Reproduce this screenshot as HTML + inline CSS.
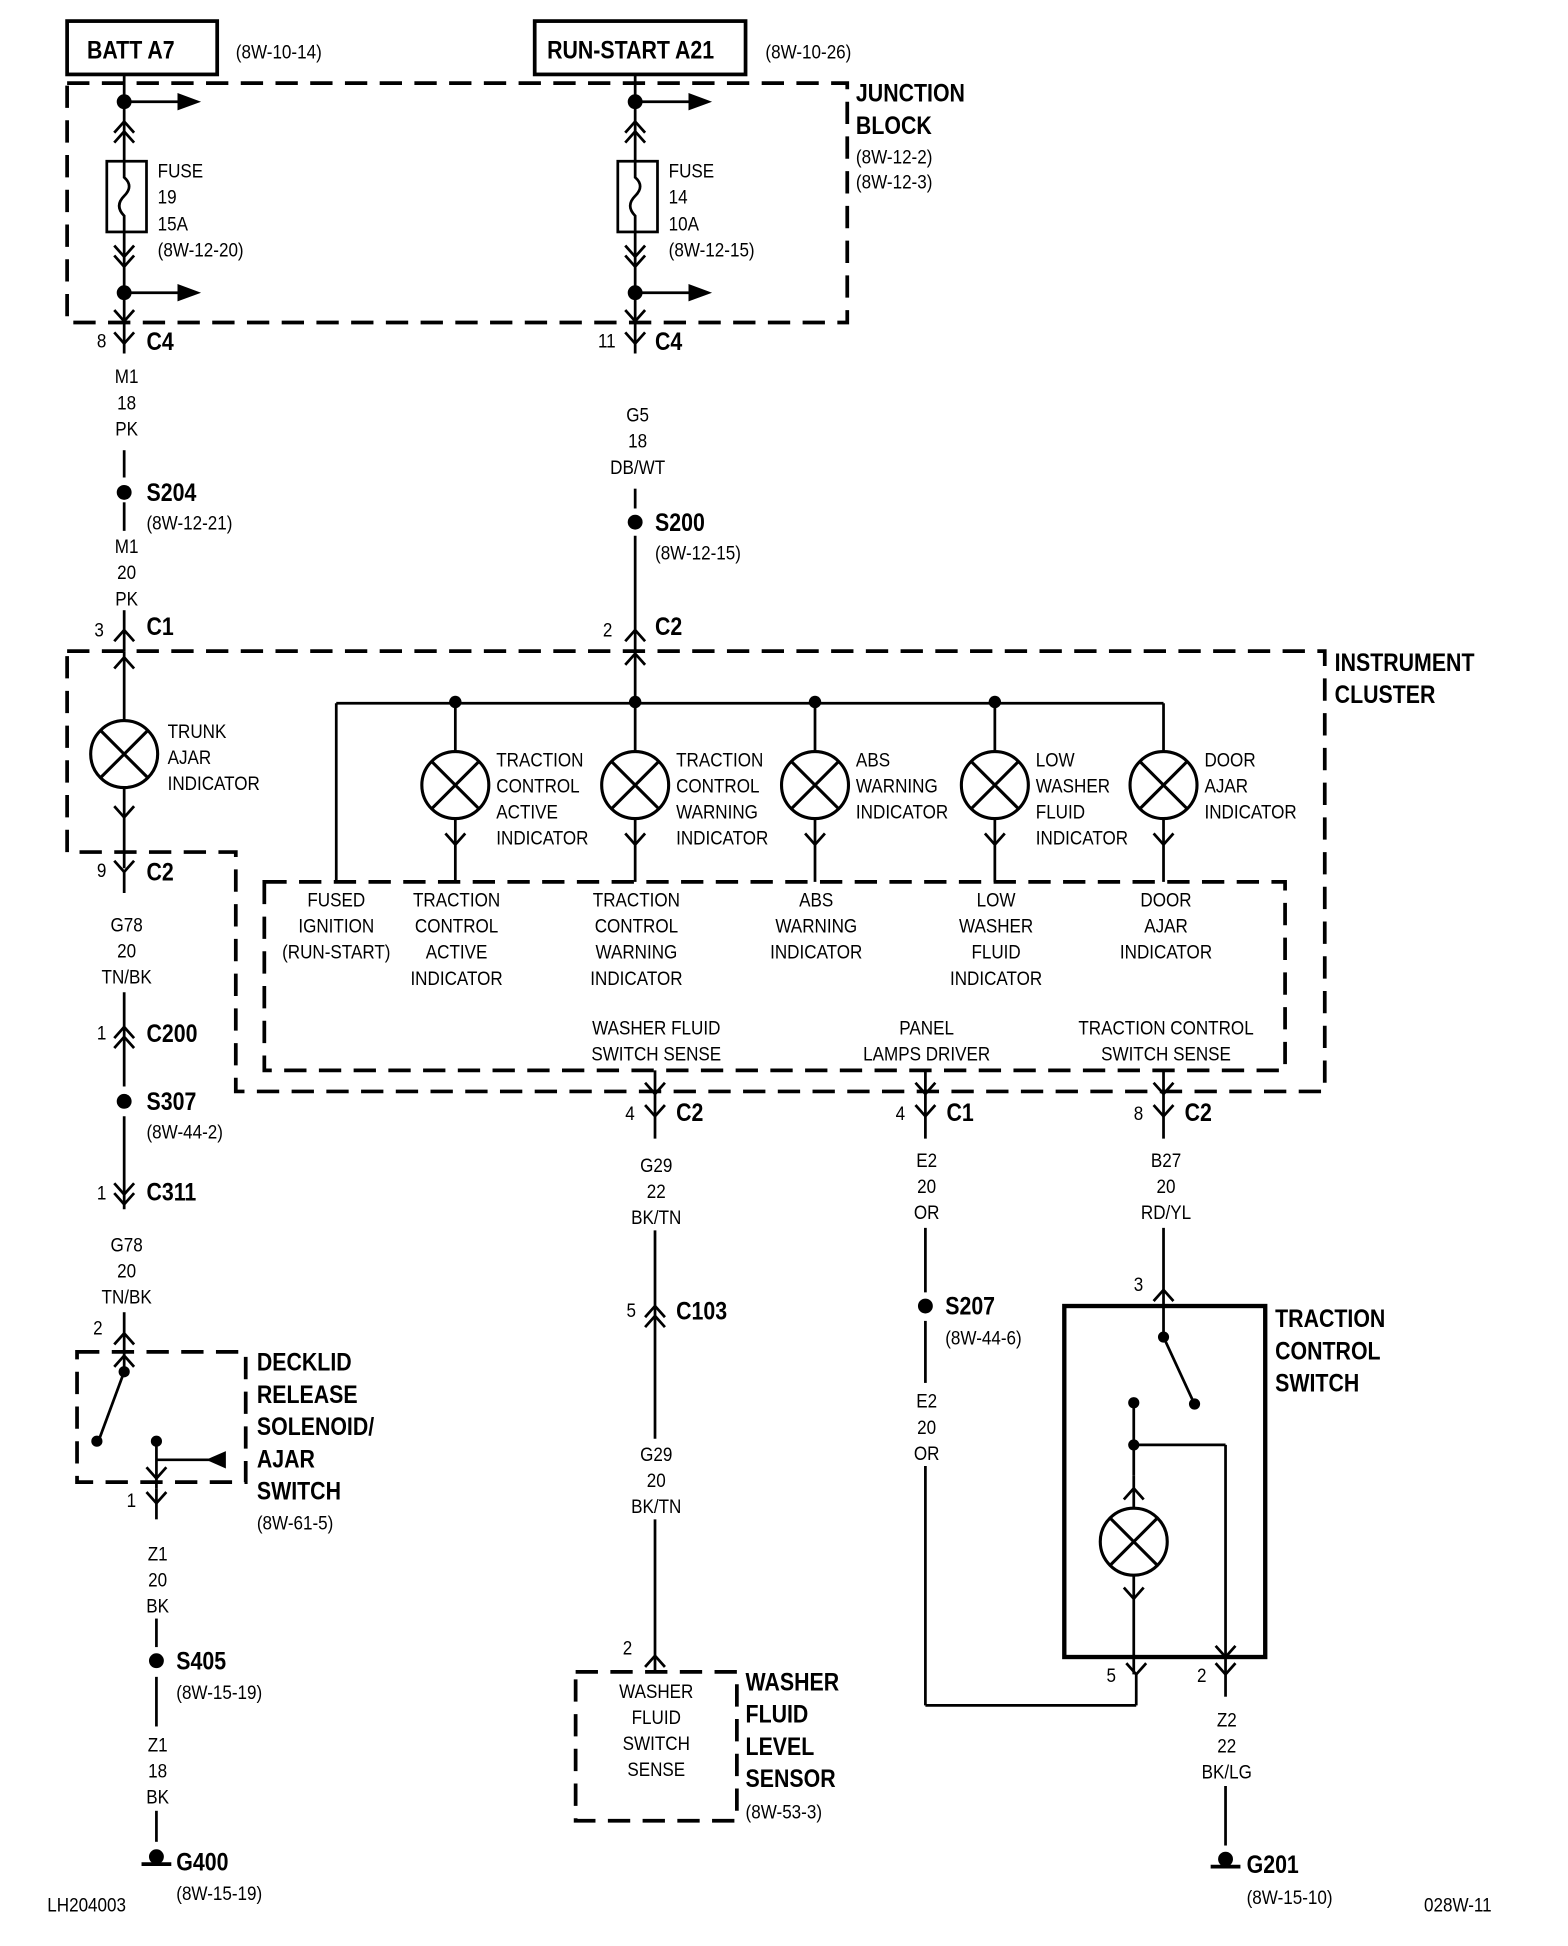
<!DOCTYPE html>
<html><head><meta charset="utf-8"><style>
html,body{margin:0;padding:0;background:#fff}
svg{display:block}
text{font-family:"Liberation Sans",sans-serif;fill:#000}
.s{font-size:16px}
.b{font-size:20px;font-weight:bold}
</style></head><body>
<svg id="d" width="1568" height="1946" viewBox="0 0 1264 1569" xmlns="http://www.w3.org/2000/svg"></svg>
<script>
var o='';
function L(x1,y1,x2,y2,w){o+='<line x1="'+x1+'" y1="'+y1+'" x2="'+x2+'" y2="'+y2+'" stroke="#000" stroke-width="'+(w||2.2)+'"/>';}
function P(d,w,da){o+='<path d="'+d+'" fill="none" stroke="#000" stroke-width="'+(w||2.2)+'"'+(da?' stroke-dasharray="'+da+'"':'')+'/>';}
function T(x,y,s,c,a){o+='<text transform="translate('+x+','+y+') scale(0.86,1)" class="'+(c||'s')+'"'+(a?' text-anchor="middle"':'')+'>'+s+'</text>';}
function D(x,y,r){o+='<circle cx="'+x+'" cy="'+y+'" r="'+(r||6)+'" fill="#000"/>';}
function V(x,y){P('M'+(x-8)+' '+(y-9)+'L'+x+' '+y+'L'+(x+8)+' '+(y-9));}
function U(x,y){P('M'+(x-8)+' '+(y+9)+'L'+x+' '+y+'L'+(x+8)+' '+(y+9));}
function Lamp(x,y){o+='<circle cx="'+x+'" cy="'+y+'" r="27" fill="#fff" stroke="#000" stroke-width="2.5"/>';var k=19;L(x-k,y-k,x+k,y+k,2.5);L(x-k,y+k,x+k,y-k,2.5);}
function AR(x,y){L(x,y,x+45,y);o+='<path d="M'+(x+43)+' '+(y-7)+'L'+(x+62)+' '+y+'L'+(x+43)+' '+(y+7)+'Z" fill="#000"/>';}
function Stack(x,y,arr){for(var i=0;i<arr.length;i++)T(x,y+i*21,arr[i],'s',1);}
function DR(x1,y1,x2,y2){o+='<rect x="'+x1+'" y="'+y1+'" width="'+(x2-x1)+'" height="'+(y2-y1)+'" fill="none" stroke="#000" stroke-width="3" stroke-dasharray="18,10"/>';}
function G(x,y){D(x,y-5,6);L(x-12,y+1,x+12,y+1,3);}

o+='<rect x="54" y="17" width="121" height="43" fill="none" stroke="#000" stroke-width="3"/>';
T(70,47,'BATT A7','b');T(190,47,'(8W-10-14)');
o+='<rect x="431" y="17" width="170" height="43" fill="none" stroke="#000" stroke-width="3"/>';
T(441,47,'RUN-START A21','b');T(617,47,'(8W-10-26)');
DR(54,67,683,260);
T(690,82,'JUNCTION','b');T(690,108,'BLOCK','b');T(690,132,'(8W-12-2)');T(690,152,'(8W-12-3)');
[[100,'19','15A','(8W-12-20)'],[512,'14','10A','(8W-12-15)']].forEach(function(f){
 var x=f[0];L(x,60,x,130);D(x,82);AR(x,82);U(x,98);U(x,106);
 o+='<rect x="'+(x-14)+'" y="130" width="32" height="57" fill="none" stroke="#000" stroke-width="2.2"/>';
 P('M'+x+' 130 L'+x+' 143 Q'+(x+8)+' 150 '+x+' 158 Q'+(x-8)+' 166 '+x+' 174 L'+x+' 187');
 L(x,187,x,285);V(x,207);V(x,215);D(x,236);AR(x,236);V(x,259);
 T(x+27,143,'FUSE');T(x+27,164,f[1]);T(x+27,186,f[2]);T(x+27,207,f[3]);
});
V(100,277);T(78,280,'8');T(118,282,'C4','b');
V(512,277);T(482,280,'11');T(528,282,'C4','b');
Stack(102,309,['M1','18','PK']);L(100,363,100,385);D(100,397);T(118,404,'S204','b');T(118,427,'(8W-12-21)');
L(100,405,100,428);Stack(102,446,['M1','20','PK']);L(100,492,100,525);U(100,508);T(76,513,'3');T(118,512,'C1','b');
Stack(514,340,['G5','18','DB/WT']);L(512,394,512,410);D(512,421);T(528,428,'S200','b');T(528,451,'(8W-12-15)');
L(512,432,512,567);U(512,508);U(512,527);T(486,513,'2');T(528,512,'C2','b');
P('M54 525 L1068 525 L1068 880 L190 880 L190 687 L54 687 Z',3,'18,10');
T(1076,541,'INSTRUMENT','b');T(1076,567,'CLUSTER','b');
L(100,525,100,700);U(100,530);Lamp(100,608);V(100,659);T(135,595,'TRUNK');T(135,616,'AJAR');T(135,637,'INDICATOR');
L(271,567,938,567);L(271,567,271,711);
var lx=[367,512,657,802,938];
var labs=[['TRACTION','CONTROL','ACTIVE','INDICATOR'],['TRACTION','CONTROL','WARNING','INDICATOR'],['ABS','WARNING','INDICATOR'],['LOW','WASHER','FLUID','INDICATOR'],['DOOR','AJAR','INDICATOR']];
lx.forEach(function(x,i){ if(x!=938) D(x,566,5); L(x,567,x,711); Lamp(x,633); V(x,681);
 for(var j=0;j<labs[i].length;j++) T(x+33,618+j*21,labs[i][j]);});
DR(213,711,1036,863);
Stack(271,731,['FUSED','IGNITION','(RUN-START)']);
Stack(368,731,['TRACTION','CONTROL','ACTIVE','INDICATOR']);
Stack(513,731,['TRACTION','CONTROL','WARNING','INDICATOR']);
Stack(658,731,['ABS','WARNING','INDICATOR']);
Stack(803,731,['LOW','WASHER','FLUID','INDICATOR']);
Stack(940,731,['DOOR','AJAR','INDICATOR']);
Stack(529,834,['WASHER FLUID','SWITCH SENSE']);
Stack(747,834,['PANEL','LAMPS DRIVER']);
Stack(940,834,['TRACTION CONTROL','SWITCH SENSE']);
[[528,'4','C2'],[746,'4','C1'],[938,'8','C2']].forEach(function(c){var x=c[0];L(x,863,x,918);V(x,882);V(x,900);T(x-24,903,c[1]);T(x+17,904,c[2],'b');});
V(100,703);L(100,703,100,720);T(78,707,'9');T(118,710,'C2','b');
Stack(102,751,['G78','20','TN/BK']);L(100,800,100,876);U(100,828);U(100,836);T(78,838,'1');T(118,840,'C200','b');
D(100,888);T(118,895,'S307','b');T(118,918,'(8W-44-2)');
L(100,900,100,975);V(100,963);V(100,971);T(78,967,'1');T(118,968,'C311','b');
Stack(102,1009,['G78','20','TN/BK']);L(100,1058,100,1106);U(100,1075);T(75,1076,'2');
DR(62,1090,198,1195);U(100,1093);D(100,1106,4.5);L(100,1106,80,1160);D(78,1162,4.5);
D(126,1162,4.5);L(126,1162,126,1200);L(126,1177,180,1177);o+='<path d="M182 1170 L166 1177 L182 1184Z" fill="#000"/>';
V(126,1192);L(126,1200,126,1225);V(126,1212);T(102,1215,'1');
T(207,1105,'DECKLID','b');T(207,1131,'RELEASE','b');T(207,1157,'SOLENOID/','b');T(207,1183,'AJAR','b');T(207,1209,'SWITCH','b');T(207,1233,'(8W-61-5)');
Stack(127,1258,['Z1','20','BK']);L(126,1305,126,1328);D(126,1339);T(142,1346,'S405','b');T(142,1370,'(8W-15-19)');
L(126,1352,126,1392);Stack(127,1412,['Z1','18','BK']);L(126,1460,126,1485);G(126,1502);T(142,1508,'G400','b');T(142,1532,'(8W-15-19)');
T(38,1541,'LH204003');
Stack(529,945,['G29','22','BK/TN']);L(528,992,528,1160);U(528,1053);U(528,1061);T(505,1062,'5');T(545,1064,'C103','b');
Stack(529,1178,['G29','20','BK/TN']);L(528,1225,528,1348);U(528,1335);T(502,1334,'2');
DR(464,1348,594,1468);Stack(529,1369,['WASHER','FLUID','SWITCH','SENSE']);
T(601,1363,'WASHER','b');T(601,1389,'FLUID','b');T(601,1415,'LEVEL','b');T(601,1441,'SENSOR','b');T(601,1466,'(8W-53-3)');
Stack(747,941,['E2','20','OR']);L(746,990,746,1042);D(746,1053);T(762,1060,'S207','b');T(762,1084,'(8W-44-6)');
L(746,1065,746,1115);Stack(747,1135,['E2','20','OR']);L(746,1182,746,1375);L(746,1375,916,1375);L(916,1375,916,1350);
Stack(940,941,['B27','20','RD/YL']);L(938,990,938,1078);U(938,1040);T(914,1041,'3');
o+='<rect x="858" y="1053" width="162" height="283" fill="none" stroke="#000" stroke-width="3.5"/>';
T(1028,1070,'TRACTION','b');T(1028,1096,'CONTROL','b');T(1028,1122,'SWITCH','b');
D(938,1078,4.5);L(938,1078,962,1130);D(963,1132,4.5);D(914,1131,4.5);L(914,1131,914,1190);D(914,1165,4.5);
L(914,1165,988,1165);L(988,1165,988,1350);V(988,1336);
L(914,1190,914,1216);U(914,1200);Lamp(914,1243);V(914,1289);L(914,1270,914,1350);V(916,1350);
T(892,1356,'5');T(965,1356,'2');V(988,1350);L(988,1350,988,1368);
Stack(989,1392,['Z2','22','BK/LG']);L(988,1440,988,1488);G(988,1504);T(1005,1510,'G201','b');T(1005,1535,'(8W-15-10)');
T(1148,1541,'028W-11');
document.getElementById('d').innerHTML=o;
</script>
</body></html>
